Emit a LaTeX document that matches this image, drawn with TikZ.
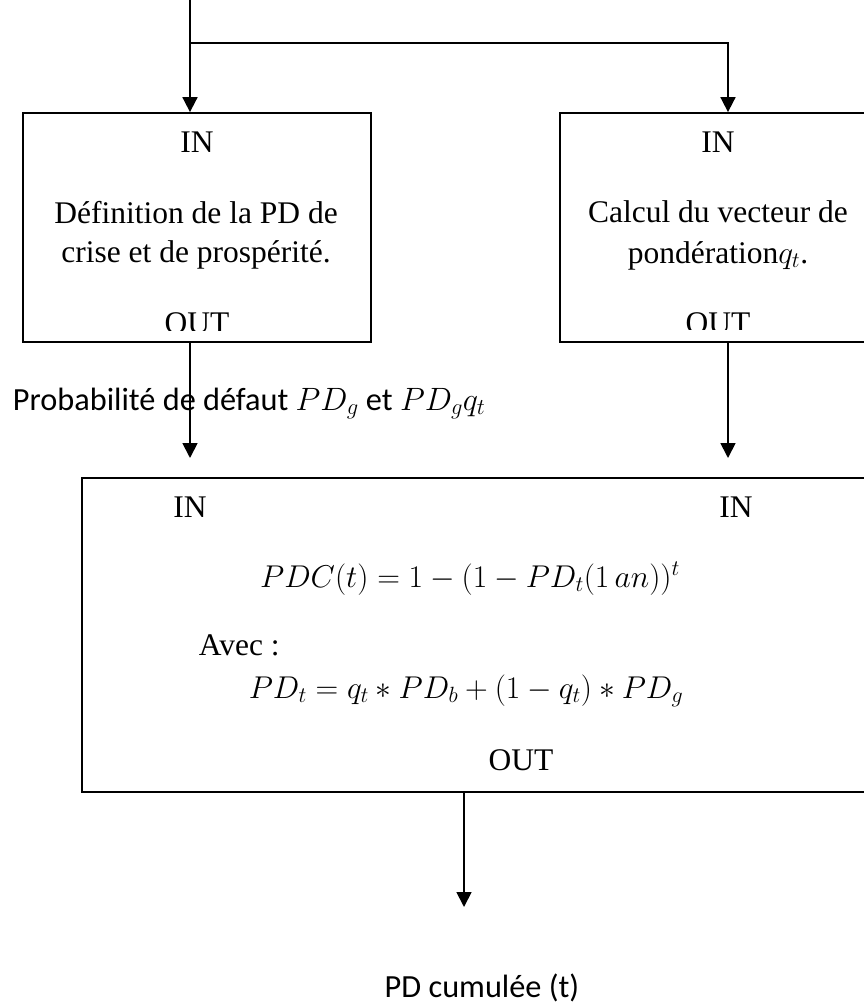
\RequirePackage{fix-cm}
\documentclass[tikz,border=0pt]{standalone}
\usepackage{fontspec}
\setmainfont{Liberation Serif}
\newfontfamily\labelfont{Carlito}
\usetikzlibrary{arrows.meta}
\begin{document}
\begin{tikzpicture}[x=1pt,y=-1pt,
  line width=1.8pt,
  arr/.style={-{Triangle[length=15pt,width=15pt]}},
  block/.style={draw,rectangle,inner sep=0pt},
  txt/.style={anchor=base,inner sep=0pt,font=\fontsize{31.5}{37}\selectfont},
  lbl/.style={anchor=base,inner sep=0pt,font=\labelfont\fontsize{32.3}{38}\selectfont}]
\useasboundingbox (0,0) rectangle (864,1004);

% blocks
\node[block,minimum width=348pt,minimum height=229pt] (box1) at (197,227.5) {};
\node[block,minimum width=336pt,minimum height=229pt] (box2) at (728,227.5) {};
\node[block,minimum width=782.5pt,minimum height=314pt] (box3) at (473.25,635) {};

% connectors
\coordinate (src) at (190,0);
\coordinate (split) at (190,43);
\coordinate (a1) at (190,458);
\coordinate (a2) at (728,458);
\coordinate (a3) at (464,907);
\draw[arr] (src) -- (src |- box1.north);
\draw[arr] (split) -| (box2.north);
\draw[arr] (box1.south -| a1) -- (a1);
\draw[arr] (box2.south -| a2) -- (a2);
\draw[arr] (box3.south -| a3) -- (a3);

% first block
\node[txt] (in1) at (197,152) {IN};
\node[txt] (d1) at (196,223) {Définition de la PD de};
\node[txt] (d2) at (196,262) {crise et de prospérité.};
\begin{scope}
  \clip (23,113) rectangle (371,330);
  \node[txt] (out1) at (197,333) {OUT};
\end{scope}

% second block
\node[txt] (in2) at (718,152) {IN};
\node[txt] (c1) at (718,222) {Calcul du vecteur de};
\node[txt] (c2) at (718,263) {pondération$q_t$.};
\begin{scope}
  \clip (560,113) rectangle (864,329);
  \node[txt] (out2) at (718,333) {OUT};
\end{scope}

% label between blocks
\node[lbl,anchor=base west] (prob) at (12,410) {Probabilité de défaut $PD_g$ et $PD_g q_t$};

% third block
\node[txt] (in3) at (190,517) {IN};
\node[txt] (in4) at (736,517) {IN};
\node[txt] (f1) at (470,587) {$PDC(t) = 1 - (1 - PD_t(1\,an))^t$};
\node[txt,anchor=base west] (avec) at (198,655) {Avec :};
\node[txt] (f2) at (466,698) {$PD_t = q_t * PD_b + (1 - q_t) * PD_g$};
\node[txt] (out3) at (521,770) {OUT};

% result
\node[lbl] (res) at (482,997) {PD cumulée (t)};
\end{tikzpicture}
\end{document}
